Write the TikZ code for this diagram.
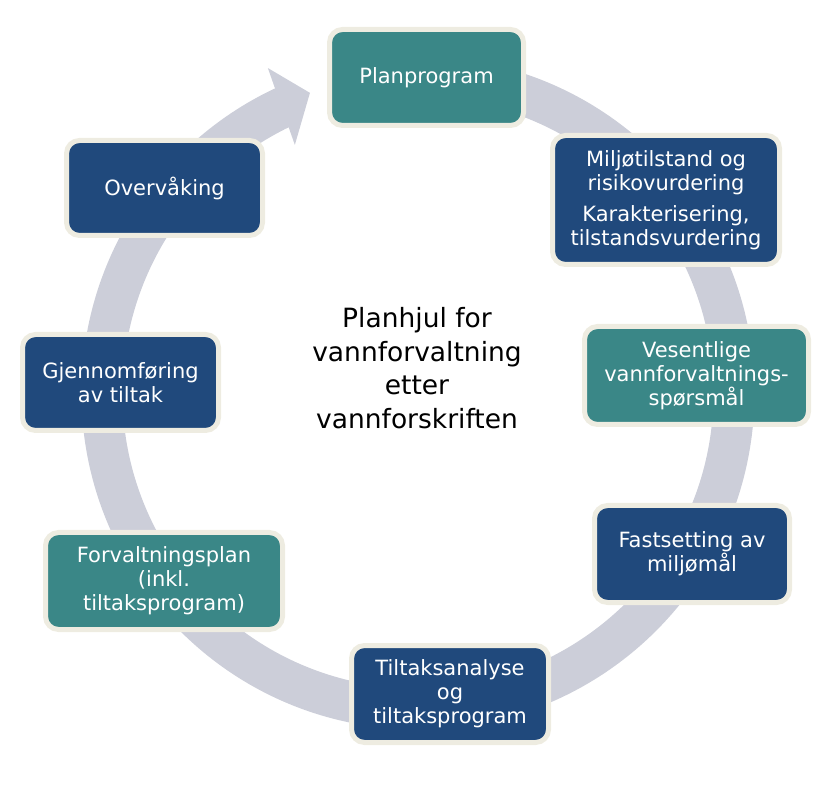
\documentclass[tikz,border=0pt]{standalone}
\usepackage{fontspec}
\setmainfont{DejaVu Sans}
\usetikzlibrary{calc}
\definecolor{ringgray}{RGB}{204,206,217}
\definecolor{tealfill}{RGB}{58,135,135}
\definecolor{navyfill}{RGB}{32,73,124}
\definecolor{creamline}{RGB}{238,236,225}
\tikzset{
  stage/.style={rounded corners=13pt, draw=creamline, line width=5pt, text=white,
    align=center, inner sep=0pt, font=\fontsize{21}{24}\selectfont},
  tealbox/.style={stage, fill=tealfill},
  navybox/.style={stage, fill=navyfill},
}
\begin{document}
\begin{tikzpicture}[x=1pt,y=1pt]
\useasboundingbox (0,0) rectangle (834,811);
\coordinate (c) at (418,418);
% ring with arrow
\draw[ringgray, line width=41pt] ([shift={(85:316)}]c) arc[start angle=85, end angle=-245, radius=316];
\fill[ringgray] ([shift={(114.8:358)}]c) -- ([shift={(109.8:319)}]c) -- ([shift={(116.4:277)}]c) -- cycle;
% boxes
\node[tealbox, minimum width=194, minimum height=96] (plan) at (426.5,733.5) {Planprogram};
\node[navybox, minimum width=227, minimum height=129] (milj) at (666,611)
  {Miljøtilstand og\\risikovurdering\\[7pt]Karakterisering,\\tilstandsvurdering};
\node[tealbox, minimum width=224, minimum height=98] (ves) at (696.5,435.5)
  {Vesentlige\\vannforvaltnings-\\spørsmål};
\node[navybox, minimum width=195, minimum height=97] (fast) at (692,257)
  {Fastsetting av\\miljømål};
\node[navybox, minimum width=197, minimum height=97] (tilt) at (450,117)
  {Tiltaksanalyse\\og\\tiltaksprogram};
\node[tealbox, minimum width=237, minimum height=97] (forv) at (164,230)
  {Forvaltningsplan\\(inkl.\\tiltaksprogram)};
\node[navybox, minimum width=196, minimum height=96] (gjen) at (120.5,428.5)
  {Gjennomføring\\av tiltak};
\node[navybox, minimum width=196, minimum height=95] (over) at (164.5,623)
  {Overvåking};
% title
\node[align=center, font=\fontsize{26.5}{33.5}\selectfont] (title) at (417,443)
  {Planhjul for\\vannforvaltning\\etter\\vannforskriften};
\end{tikzpicture}
\end{document}
